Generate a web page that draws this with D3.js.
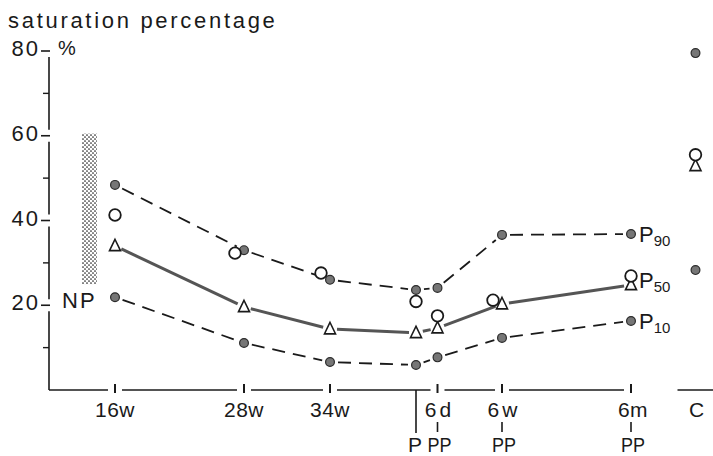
<!DOCTYPE html>
<html>
<head>
<meta charset="utf-8">
<script src="https://cdn.jsdelivr.net/npm/d3@7"></script>
<style>
  html, body { margin: 0; padding: 0; background: #fff; }
  svg { display: block; font-family: "Liberation Sans", Arial, sans-serif; }
</style>
</head>
<body>
<svg id="chart" width="713" height="456"></svg>
<script>
// Pregnancy time points (non-linear time axis: slot = position along the axis)
const categories = ["16w", "28w", "34w", "P", "6d", "6w", "6m"];
const axisSlot   = [0, 1.5, 2.5, 3.5, 3.75, 4.5, 6];
const postpartum = ["6d", "6w", "6m"];

// Saturation percentage per time point
const p90Values  = [48.4, 33.0, 26.0, 23.6, 24.1, 36.6, 36.8];
const p50Values  = [34.0, 19.6, 14.4, 13.5, 14.6, 20.3, 24.8];
const p10Values  = [21.9, 11.1, 6.6, 5.9, 7.7, 12.3, 16.3];
const meanValues = [41.3, 32.3, 27.6, 20.9, 17.5, 21.2, 26.9];

// Control group column
const controlLabel = "C";
const controlSlot = 6.75;
const controlP90 = 79.5, controlMean = 55.5, controlP50 = 52.9, controlP10 = 28.3;

// Non-pregnant reference range
const npRange = [25, 60.5];

const yMajorTicks = [20, 40, 60, 80];
const yMinorTicks = [10, 30, 50, 70];

const svg = d3.select("#chart");
const ink = "#1a1a1a";

const x = d3.scaleLinear().domain([0, 7]).range([115, 717]);
const y = d3.scaleLinear().domain([0, 80]).range([390, 51]);
const axisX = 49;
const y0 = y(0);

// stipple pattern for the NP band
const defs = svg.append("defs");
const pat = defs.append("pattern").attr("id", "stipple")
  .attr("patternUnits", "userSpaceOnUse").attr("width", 4).attr("height", 4);
pat.append("circle").attr("cx", 1).attr("cy", 1).attr("r", 0.85).attr("fill", "#222");
pat.append("circle").attr("cx", 3).attr("cy", 3).attr("r", 0.85).attr("fill", "#222");

// ---- title ----
svg.append("text").attr("x", 8).attr("y", 28)
  .attr("font-size", 22).attr("letter-spacing", 2.7).attr("fill", ink)
  .text("saturation percentage");

// ---- y axis: segments broken around the labelled ticks ----
const yAxisG = svg.append("g");
const gap = 6;
const breaks = [0, ...yMajorTicks];
for (let i = 0; i < breaks.length - 1; i++) {
  const top = y(breaks[i + 1]) + gap;
  const bottom = i === 0 ? y0 : y(breaks[i]) - gap;
  yAxisG.append("line").attr("x1", axisX).attr("x2", axisX)
    .attr("y1", top).attr("y2", bottom)
    .attr("stroke", ink).attr("stroke-width", 1.6);
}
yAxisG.selectAll(".major").data(yMajorTicks).join("line")
  .attr("x1", axisX - 8).attr("x2", axisX + 1)
  .attr("y1", d => y(d)).attr("y2", d => y(d))
  .attr("stroke", ink).attr("stroke-width", 1.6);
yAxisG.selectAll(".minor").data(yMinorTicks).join("line")
  .attr("x1", axisX - 6).attr("x2", axisX)
  .attr("y1", d => y(d)).attr("y2", d => y(d))
  .attr("stroke", ink).attr("stroke-width", 1.4);
yAxisG.selectAll(".lbl").data(yMajorTicks).join("text")
  .attr("x", axisX - 9).attr("y", d => y(d) + 5)
  .attr("text-anchor", "end").attr("font-size", 22).attr("letter-spacing", 2)
  .attr("fill", ink).text(d => d);
svg.append("text").attr("x", 58).attr("y", 55)
  .attr("font-size", 20).attr("fill", ink).text("%");

// ---- x axis ----
const xAxisG = svg.append("g");
const catX = categories.map((c, i) => x(axisSlot[i]));
const pIndex = categories.indexOf("P");
const lastX = catX[catX.length - 1];
// baseline pieces, broken around every tick except the delivery marker
const gapTicks = catX.filter((d, i) => i !== pIndex);
let start = axisX;
gapTicks.forEach(tx => {
  xAxisG.append("line").attr("x1", start).attr("x2", tx - 7)
    .attr("y1", y0).attr("y2", y0).attr("stroke", ink).attr("stroke-width", 1.6);
  start = tx + 7;
});
xAxisG.selectAll(".xt").data(gapTicks).join("line")
  .attr("x1", d => d).attr("x2", d => d)
  .attr("y1", y0 - 6).attr("y2", y0 + 3)
  .attr("stroke", ink).attr("stroke-width", 2);
// delivery marker: long drop line
xAxisG.append("line").attr("x1", catX[pIndex]).attr("x2", catX[pIndex])
  .attr("y1", y0).attr("y2", y0 + 43).attr("stroke", ink).attr("stroke-width", 1.6);
// control segment
const cX = x(controlSlot);
xAxisG.append("line").attr("x1", cX - 18).attr("x2", cX + 18)
  .attr("y1", y0).attr("y2", y0).attr("stroke", ink).attr("stroke-width", 1.6);

// tick labels
categories.forEach((c, i) => {
  if (c === "P") {
    xAxisG.append("text").attr("x", catX[i] - 1).attr("y", y0 + 62)
      .attr("text-anchor", "middle").attr("font-size", 21).attr("fill", ink).text("P");
    return;
  }
  const isPP = postpartum.includes(c);
  xAxisG.append("text").attr("x", catX[i] + (isPP ? 2 : 0)).attr("y", y0 + 27)
    .attr("text-anchor", "middle").attr("font-size", 21)
    .attr("letter-spacing", isPP && c !== "6m" ? 3 : 0.5)
    .attr("fill", ink).text(c);
  if (isPP) {
    xAxisG.append("line").attr("x1", catX[i]).attr("x2", catX[i])
      .attr("y1", y0 + 32).attr("y2", y0 + 42).attr("stroke", ink).attr("stroke-width", 1.6);
    xAxisG.append("text").attr("x", catX[i] + 2).attr("y", y0 + 62)
      .attr("text-anchor", "middle").attr("font-size", 21)
      .attr("textLength", 24).attr("lengthAdjust", "spacingAndGlyphs")
      .attr("fill", ink).text("PP");
  }
});
xAxisG.append("text").attr("x", cX + 1).attr("y", y0 + 27)
  .attr("text-anchor", "middle").attr("font-size", 21).attr("fill", ink).text(controlLabel);

// ---- NP band ----
svg.append("rect")
  .attr("x", 82).attr("width", 15)
  .attr("y", y(npRange[1])).attr("height", y(npRange[0]) - y(npRange[1]))
  .attr("fill", "url(#stipple)");
svg.append("text").attr("x", 62).attr("y", y(20) + 3)
  .attr("font-size", 22).attr("letter-spacing", 2).attr("fill", ink).text("NP");

// ---- connecting lines, trimmed short of the markers ----
function trimmedSegments(values, pad) {
  const pts = values.map((v, i) => [catX[i], y(v)]);
  const segs = [];
  for (let i = 0; i < pts.length - 1; i++) {
    const [ax, ay] = pts[i], [bx, by] = pts[i + 1];
    const len = Math.hypot(bx - ax, by - ay);
    const ux = (bx - ax) / len, uy = (by - ay) / len;
    segs.push([ax + ux * pad, ay + uy * pad, bx - ux * pad, by - uy * pad]);
  }
  return segs;
}
function drawLine(values, pad, attrs) {
  const g = svg.append("g");
  g.selectAll("line").data(trimmedSegments(values, pad)).join("line")
    .attr("x1", d => d[0]).attr("y1", d => d[1])
    .attr("x2", d => d[2]).attr("y2", d => d[3])
    .attr("fill", "none")
    .attr("stroke", attrs.stroke).attr("stroke-width", attrs.width)
    .attr("stroke-dasharray", attrs.dash || null);
}
drawLine(p90Values, 8, { stroke: ink, width: 1.8, dash: "13 8" });
drawLine(p10Values, 8, { stroke: ink, width: 1.8, dash: "13 8" });
drawLine(p50Values, 7, { stroke: "#555", width: 3 });

// ---- markers ----
function dot(cx, v) {
  svg.append("circle").attr("cx", cx).attr("cy", y(v)).attr("r", 4.4)
    .attr("fill", "#767676").attr("stroke", "#2a2a2a").attr("stroke-width", 1.2);
}
function ring(cx, v) {
  svg.append("circle").attr("cx", cx).attr("cy", y(v)).attr("r", 5.8)
    .attr("fill", "#fff").attr("stroke", ink).attr("stroke-width", 1.8);
}
const triSym = d3.symbol().type(d3.symbolTriangle).size(62);
function tri(cx, v) {
  svg.append("path").attr("d", triSym)
    .attr("transform", `translate(${cx},${y(v) + 1}) scale(0.92,1.1)`)
    .attr("fill", "#fff").attr("stroke", ink).attr("stroke-width", 1.6);
}

categories.forEach((c, i) => {
  const cx = catX[i];
  dot(cx, p90Values[i]);
  dot(cx, p10Values[i]);
  tri(cx, p50Values[i]);
  // the mean ring steps aside when it would sit on another marker
  const crowded = [p90Values[i], p50Values[i], p10Values[i]]
    .some(v => Math.abs(v - meanValues[i]) < 2);
  ring(crowded ? cx - 9 : cx, meanValues[i]);
});

// control column
dot(cX, controlP90);
dot(cX, controlP10);
tri(cX, controlP50);
ring(cX, controlMean);

// ---- percentile labels ----
const lastI = categories.length - 1;
function pLabel(sub, v) {
  const t = svg.append("text").attr("x", lastX + 8).attr("y", y(v) + 8)
    .attr("font-size", 22).attr("fill", ink);
  t.append("tspan").text("P");
  t.append("tspan").attr("font-size", 15).attr("dy", 4).text(sub);
}
pLabel("90", p90Values[lastI]);
pLabel("50", (p50Values[lastI] + meanValues[lastI]) / 2);
pLabel("10", p10Values[lastI]);
</script>
</body>
</html>
